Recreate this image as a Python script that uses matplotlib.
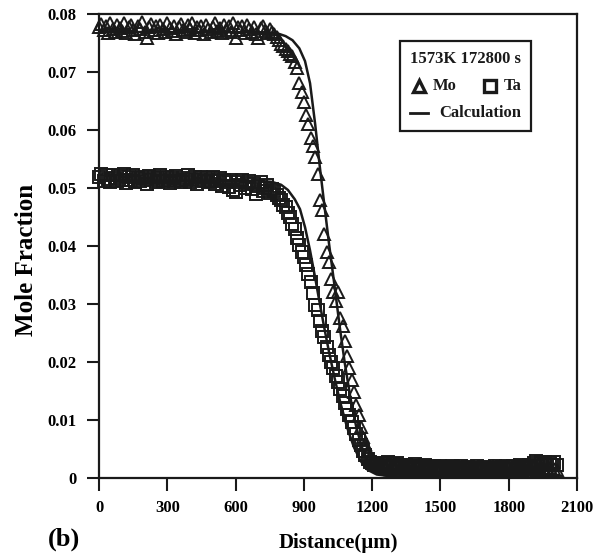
import matplotlib

matplotlib.use("Agg")
import matplotlib.pyplot as plt
from matplotlib.lines import Line2D
from matplotlib.offsetbox import (AnchoredOffsetbox, DrawingArea, HPacker,
                                  TextArea, VPacker)
from matplotlib.ticker import FuncFormatter, MultipleLocator

# measured line scan (distance in um), Mo and Ta share the same points
distance = [
    0, 10, 20, 30, 40, 50, 60, 70, 80, 90, 100, 110, 120, 130, 140, 150,
    160, 170, 180, 190, 200, 210, 220, 230, 240, 250, 260, 270, 280, 290, 300, 310,
    320, 330, 340, 350, 360, 370, 380, 390, 400, 410, 420, 430, 440, 450, 460, 470,
    480, 490, 500, 510, 520, 530, 540, 550, 560, 570, 580, 590, 600, 610, 620, 630,
    640, 650, 660, 670, 680, 690, 700, 710, 720, 730, 740, 750, 760, 770,
    780, 790, 800, 810, 820, 830, 840, 850, 860, 870, 880, 890, 900, 910, 920, 930,
    940, 950, 960, 970, 980, 990, 1000, 1010, 1020, 1030, 1040, 1050, 1060, 1070,
    1080, 1090, 1100, 1110, 1120, 1130, 1140, 1150, 1160, 1170, 1180, 1190, 1200,
    1210, 1220, 1230, 1240,
    1250, 1260, 1270, 1280, 1290, 1300, 1310, 1320, 1330, 1340, 1350, 1360, 1370,
    1380, 1390, 1400, 1410, 1420, 1430, 1440, 1450, 1460, 1470, 1480, 1490, 1500,
    1510, 1520, 1530, 1540, 1550, 1560, 1570, 1580, 1590, 1600, 1610, 1620, 1630,
    1640, 1650, 1660, 1670, 1680, 1690, 1700, 1710, 1720, 1730, 1740, 1750, 1760,
    1770, 1780, 1790, 1800, 1810, 1820, 1830, 1840, 1850, 1860, 1870, 1880, 1890,
    1900, 1910, 1920, 1930, 1940, 1950, 1960, 1970, 1980, 1990, 2000, 2010,
]

mo_meas = [
    # plateau
    0.0776, 0.0782, 0.0771, 0.0779, 0.0766, 0.0784, 0.0773, 0.0769, 0.0780, 0.0775,
    0.0770, 0.0783, 0.0767, 0.0777, 0.0781, 0.0772, 0.0765, 0.0779, 0.0774, 0.0785,
    0.0768, 0.0758, 0.0776, 0.0782, 0.0771, 0.0778, 0.0766, 0.0780, 0.0773, 0.0769,
    0.0784, 0.0775, 0.0770, 0.0779, 0.0764, 0.0777, 0.0782, 0.0772, 0.0768, 0.0780,
    0.0774, 0.0783, 0.0767, 0.0776, 0.0771, 0.0779, 0.0765, 0.0781, 0.0773, 0.0769,
    0.0777, 0.0784, 0.0770, 0.0775, 0.0766, 0.0780, 0.0772, 0.0778, 0.0768, 0.0783,
    0.0758, 0.0776, 0.0771, 0.0779, 0.0767, 0.0781, 0.0774, 0.0769, 0.0777, 0.0764,
    0.0758, 0.0775, 0.0779, 0.0770, 0.0766, 0.0773, 0.0768, 0.0764,
    # drop
    0.0760, 0.0754, 0.0748, 0.0744, 0.0739, 0.0735, 0.0730, 0.0726, 0.0716, 0.0706,
    0.0680, 0.0664, 0.0648, 0.0626, 0.0610, 0.0586, 0.0572, 0.0552, 0.0524, 0.0478,
    0.0462, 0.0420, 0.0390, 0.0372, 0.0342, 0.0320, 0.0305, 0.0320, 0.0275, 0.0262,
    0.0236, 0.0210, 0.0190, 0.0168, 0.0148, 0.0126, 0.0108, 0.0088, 0.0070, 0.0058,
    0.0046, 0.0036, 0.0030, 0.0026, 0.0022, 0.0024, 0.0019,
    # tail
    0.0022, 0.0018, 0.0024, 0.0015, 0.0020, 0.0017, 0.0023, 0.0014, 0.0019, 0.0021,
    0.0016, 0.0012, 0.0020, 0.0018, 0.0015, 0.0022, 0.0013, 0.0017, 0.0019, 0.0014,
    0.0021, 0.0016, 0.0012, 0.0018, 0.0015, 0.0020, 0.0013, 0.0017, 0.0019, 0.0011,
    0.0016, 0.0018, 0.0014, 0.0020, 0.0012, 0.0017, 0.0015, 0.0019, 0.0013, 0.0016,
    0.0018, 0.0011, 0.0015, 0.0019, 0.0014, 0.0017, 0.0012, 0.0016, 0.0020, 0.0013,
    0.0015, 0.0018, 0.0011, 0.0016, 0.0014, 0.0019, 0.0012, 0.0017, 0.0015, 0.0013,
    0.0018, 0.0014, 0.0016, 0.0011, 0.0017, 0.0015, 0.0019, 0.0012, 0.0016, 0.0014,
    0.0018, 0.0013, 0.0015, 0.0017, 0.0012, 0.0016, 0.0014,
]

ta_meas = [
    # plateau
    0.0519, 0.0524, 0.0512, 0.0521, 0.0515, 0.0509, 0.0522, 0.0516, 0.0511, 0.0520,
    0.0514, 0.0523, 0.0508, 0.0518, 0.0513, 0.0521, 0.0510, 0.0517, 0.0512, 0.0519,
    0.0515, 0.0507, 0.0520, 0.0513, 0.0518, 0.0510, 0.0516, 0.0522, 0.0511, 0.0514,
    0.0519, 0.0508, 0.0516, 0.0512, 0.0520, 0.0513, 0.0509, 0.0517, 0.0514, 0.0521,
    0.0510, 0.0515, 0.0518, 0.0507, 0.0513, 0.0519, 0.0511, 0.0516, 0.0509, 0.0514,
    0.0518, 0.0506, 0.0512, 0.0516, 0.0503, 0.0514, 0.0509, 0.0501, 0.0513, 0.0496,
    0.0493, 0.0510, 0.0505, 0.0514, 0.0499, 0.0508, 0.0512, 0.0497, 0.0506, 0.0489,
    0.0503, 0.0509, 0.0494, 0.0500, 0.0505, 0.0491, 0.0498, 0.0494,
    # drop
    0.0488, 0.0482, 0.0478, 0.0470, 0.0466, 0.0457, 0.0450, 0.0438, 0.0428, 0.0414,
    0.0402, 0.0390, 0.0380, 0.0366, 0.0352, 0.0338, 0.0318, 0.0298, 0.0290, 0.0270,
    0.0254, 0.0242, 0.0226, 0.0212, 0.0200, 0.0190, 0.0176, 0.0165, 0.0154, 0.0142,
    0.0130, 0.0118, 0.0108, 0.0096, 0.0086, 0.0076, 0.0066, 0.0057, 0.0047, 0.0040,
    0.0033, 0.0028, 0.0025, 0.0022, 0.0026, 0.0021, 0.0024,
    # tail
    0.0026, 0.0021, 0.0027, 0.0019, 0.0024, 0.0020, 0.0025, 0.0017, 0.0022, 0.0019,
    0.0023, 0.0016, 0.0021, 0.0018, 0.0024, 0.0015, 0.0020, 0.0017, 0.0022, 0.0016,
    0.0019, 0.0014, 0.0021, 0.0017, 0.0015, 0.0020, 0.0018, 0.0013, 0.0019, 0.0016,
    0.0021, 0.0015, 0.0018, 0.0014, 0.0020, 0.0017, 0.0015, 0.0019, 0.0013, 0.0018,
    0.0016, 0.0020, 0.0014, 0.0017, 0.0019, 0.0015, 0.0018, 0.0013, 0.0016, 0.0020,
    0.0017, 0.0014, 0.0019, 0.0016, 0.0021, 0.0015, 0.0018, 0.0020, 0.0016, 0.0019,
    0.0022, 0.0017, 0.0020, 0.0018, 0.0023, 0.0019, 0.0025, 0.0029, 0.0021, 0.0027,
    0.0024, 0.0028, 0.0022, 0.0026, 0.0023, 0.0027, 0.0022,
]

# calculated profiles
mo_calc_d = [0, 300, 600, 750, 790, 820, 850, 880, 905, 927, 950, 970, 990,
             1010, 1035, 1057, 1080, 1105, 1130, 1155, 1180, 1210, 1250, 1300,
             1500, 2000]
mo_calc = [0.0768, 0.0768, 0.0768, 0.0767, 0.0765, 0.0761, 0.0754, 0.0740,
           0.0718, 0.0680, 0.0608, 0.0536, 0.0470, 0.0405, 0.0330, 0.0262,
           0.0197, 0.0137, 0.0088, 0.0053, 0.0029, 0.0013, 0.0005, 0.0002,
           0.0001, 0.0]

ta_calc_d = [0, 300, 600, 700, 760, 800, 830, 860, 883, 905, 927, 950, 971,
             990, 1010, 1035, 1060, 1090, 1120, 1150, 1180, 1220, 1300, 1500,
             2000]
ta_calc = [0.0512, 0.0512, 0.0512, 0.0512, 0.0510, 0.0505, 0.0496, 0.0480,
           0.0463, 0.0432, 0.0392, 0.0344, 0.0298, 0.0258, 0.0218, 0.0172,
           0.0130, 0.0087, 0.0053, 0.0029, 0.0014, 0.0006, 0.0002, 0.0001, 0.0]

FONT = ["Liberation Serif", "DejaVu Serif"]
plt.rcParams["font.family"] = FONT
plt.rcParams["font.weight"] = "bold"

INK = "#1a1a1a"

fig = plt.figure(figsize=(5.98, 5.58), dpi=100)
ax = fig.add_axes([0.1656, 0.1434, 0.7993, 0.8324])

mark_kw = dict(ls="none", ms=8, mfc="none", mec=INK, mew=1.4, clip_on=False)
ax.plot(distance, ta_meas, marker="s", **mark_kw)
ax.plot(distance, mo_meas, marker="^", **mark_kw)
ax.plot(mo_calc_d, mo_calc, color=INK, lw=1.8)
ax.plot(ta_calc_d, ta_calc, color=INK, lw=1.8)

ax.set_xlim(0, 2100)
ax.set_ylim(0, 0.08)
ax.xaxis.set_major_locator(MultipleLocator(300))
ax.yaxis.set_major_locator(MultipleLocator(0.01))
ax.yaxis.set_major_formatter(
    FuncFormatter(lambda v, _: "0" if abs(v) < 1e-9 else f"{v:.2f}")
)
ax.tick_params(direction="out", length=9, width=1.5, labelsize=12, pad=7,
               color=INK)
for spine in ax.spines.values():
    spine.set_linewidth(1.6)
    spine.set_color(INK)
for lab in ax.get_xticklabels() + ax.get_yticklabels():
    lab.set_fontweight("bold")

ax.set_xlabel("Distance(\u00b5m)", fontsize=15, fontweight="bold", labelpad=12)
ax.set_ylabel("Mole Fraction", fontsize=18, fontweight="bold")
ax.yaxis.set_label_coords(-0.128, 0.47)
fig.text(0.080, 0.022, "(b)", fontsize=19, fontweight="bold")

# legend box
txt = dict(fontsize=12, fontweight="bold", color=INK)


def _symbol(marker=None):
    da = DrawingArea(12, 10, 0, 0)
    if marker is None:
        da.add_artist(Line2D([0, 13], [5, 5], color=INK, lw=2))
    else:
        da.add_artist(Line2D([6], [5], marker=marker, ms=8.5, mfc="white",
                             mec=INK, mew=2.4, ls="none"))
    return da


row_title = TextArea("1573K 172800 s", textprops=txt)
row_marks = HPacker(children=[_symbol("^"), TextArea("Mo", textprops=txt),
                              DrawingArea(10, 1), _symbol("s"),
                              TextArea("Ta", textprops=txt)],
                    sep=4, align="center", pad=0)
row_calc = HPacker(children=[_symbol(None), TextArea("Calculation", textprops=txt)],
                   sep=9, align="center", pad=0)
box = VPacker(children=[row_title, row_marks, row_calc], sep=8, align="left",
              pad=0)
anchored = AnchoredOffsetbox(loc="upper right", child=box, pad=0.7,
                             borderpad=0, frameon=True,
                             bbox_to_anchor=(0.904, 0.940),
                             bbox_transform=ax.transAxes)
anchored.patch.set_boxstyle("square", pad=0)
anchored.patch.set_linewidth(1.6)
anchored.patch.set_edgecolor(INK)
ax.add_artist(anchored)

fig.savefig("out.png", dpi=100)
